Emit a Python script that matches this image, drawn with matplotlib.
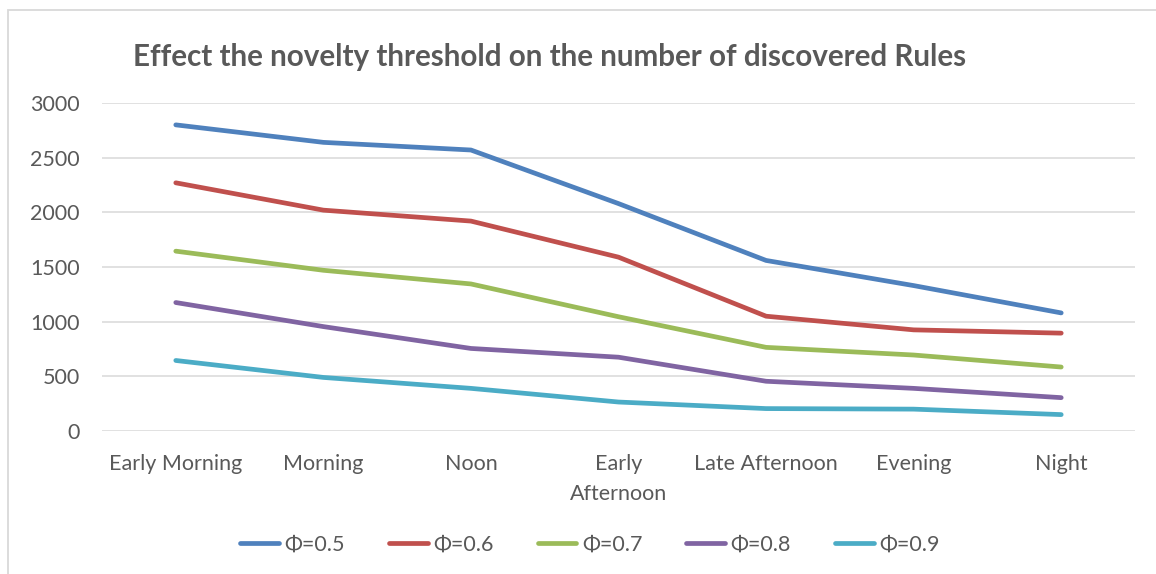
import matplotlib
matplotlib.use("Agg")
import matplotlib.pyplot as plt
from matplotlib.patches import Rectangle

plt.rcParams['font.family'] = ['Lato', 'DejaVu Sans']

periods = ["Early Morning", "Morning", "Noon", "Early\nAfternoon",
           "Late Afternoon", "Evening", "Night"]

phi_05 = [2800, 2640, 2570, 2080, 1560, 1330, 1080]
phi_06 = [2270, 2020, 1920, 1590, 1050, 925, 895]
phi_07 = [1645, 1470, 1345, 1045, 765, 695, 585]
phi_08 = [1175, 955, 755, 675, 455, 390, 305]
phi_09 = [645, 490, 390, 265, 205, 200, 150]

labels = ["Φ=0.5", "Φ=0.6", "Φ=0.7", "Φ=0.8", "Φ=0.9"]
colors = ["#4F81BD", "#C0504D", "#9BBB59", "#8064A2", "#4BACC6"]
yticks = [0, 500, 1000, 1500, 2000, 2500, 3000]

text_color = "#595959"
grid_color = "#D9D9D9"

fig = plt.figure(figsize=(11.56, 5.74), dpi=100)
ax = fig.add_axes([102 / 1156, 1 - 431 / 574, 1033 / 1156, 328 / 574])

# outer chart frame (top and left edges visible)
fig.patches.append(Rectangle((8 / 1156, -0.1), 1.2, 1.1 - 10.5 / 574,
                             transform=fig.transFigure, fill=False,
                             edgecolor=grid_color, linewidth=1.3))

x = list(range(len(periods)))
for vals, lab, c in zip([phi_05, phi_06, phi_07, phi_08, phi_09], labels, colors):
    ax.plot(x, vals, color=c, linewidth=3.4, label=lab,
            solid_capstyle="round", solid_joinstyle="round", zorder=3)

ax.set_xlim(-0.5, len(periods) - 0.5)
ax.set_ylim(0, 3000)
ax.set_yticks(yticks)
ax.set_xticks(x)
ax.set_xticklabels(periods, linespacing=1.6)
ax.grid(axis="y", color=grid_color, linewidth=1.1, zorder=0)
for s in ax.spines.values():
    s.set_visible(False)
ax.tick_params(axis="both", length=0, labelsize=15.5, labelcolor=text_color)
ax.tick_params(axis="y", pad=16)
ax.tick_params(axis="x", pad=16.5)

fig.text(133 / 1156, 1 - 57 / 574, "Effect the novelty threshold on the number of discovered Rules",
         fontsize=21.3, fontweight="bold", color=text_color, ha="left", va="center")

leg = fig.legend(loc="center", bbox_to_anchor=(590 / 1156, 1 - 545 / 574), ncol=5,
                 frameon=False, fontsize=15.5, handlelength=1.8, handletextpad=0.25,
                 columnspacing=2.05, labelcolor=text_color)
for h in leg.get_lines():
    h.set_linewidth(3.4)
    h.set_solid_capstyle("round")

fig.savefig("out.png", dpi=100, facecolor="white")
